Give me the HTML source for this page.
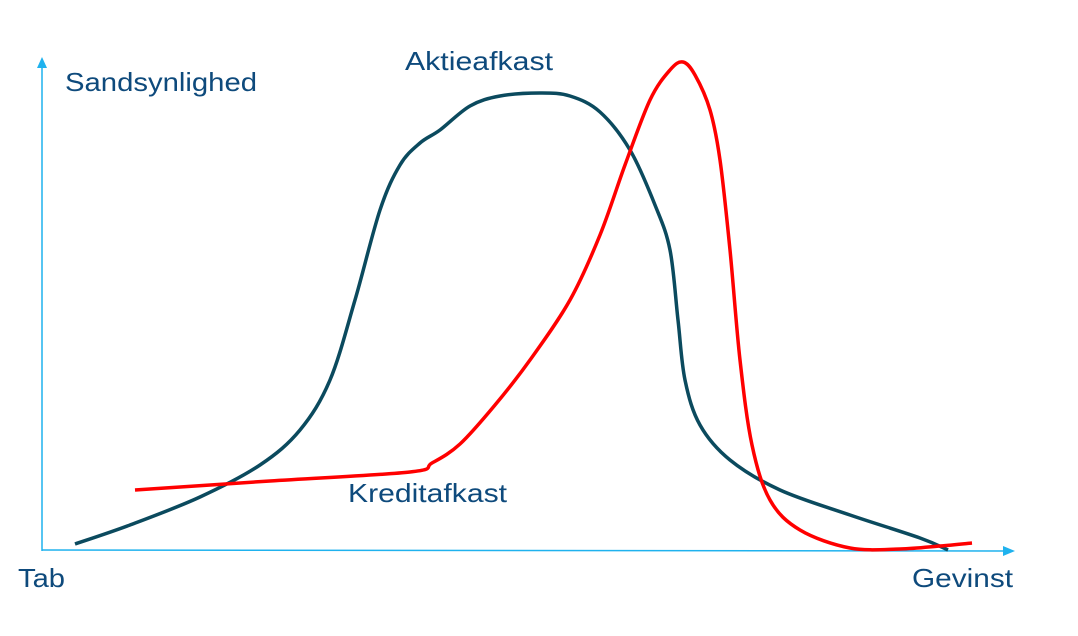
<!DOCTYPE html>
<html><head><meta charset="utf-8">
<style>
html,body{margin:0;padding:0;background:#fff;}
svg{display:block;}
text{font-family:"Liberation Sans",sans-serif;fill:#0e4a7c;font-size:26px;}
</style></head>
<body>
<svg id="chart" width="1078" height="636" viewBox="0 0 1078 636">
  <g>
    <line x1="42" y1="551" x2="42" y2="66" stroke="#1fb2ee" stroke-width="1.5"/>
    <polygon points="37,68 47,68 42,57" fill="#1fb2ee"/>
  </g>
  <g>
    <line x1="42" y1="550" x2="1004" y2="551" stroke="#1fb2ee" stroke-width="1.5"/>
    <polygon points="1003,546 1003,556 1015,551" fill="#1fb2ee"/>
  </g>
  <text x="65" y="91" textLength="192" lengthAdjust="spacingAndGlyphs">Sandsynlighed</text>
  <text x="18" y="587" textLength="47" lengthAdjust="spacingAndGlyphs">Tab</text>
  <text x="912" y="587" textLength="101" lengthAdjust="spacingAndGlyphs">Gevinst</text>
  <text x="405" y="70" textLength="148" lengthAdjust="spacingAndGlyphs">Aktieafkast</text>
  <text x="348" y="502" textLength="159" lengthAdjust="spacingAndGlyphs">Kreditafkast</text>
  <g id="series"></g>
</svg>
<script>
// x positions (return axis, px-units) and density heights above the axis
const aktieX = [75,130,200,260,300,330,355,380,400,420,440,470,500,540,570,600,630,655,670,678,685,700,730,780,850,920,948];
const aktieY = [6,25,53,85,120,170,250,340,385,407,420,444,454,457,454,438,400,345,300,230,170,125,90,60,35,12,0];
const kreditX = [135,270,410,432,460,495,530,570,600,625,650,670,683,695,710,720,730,740,752,770,800,850,900,940,972];
const kreditY = [60,69,78,87,106,145,190,250,315,385,450,480,488,475,440,390,300,190,105,50,20,2,1,4,7];

const x0 = 0, axisY = 550;
function sx(v){ return x0 + v; }
function sy(v){ return axisY - v; }

function pathFor(xs, ys){
  const p = xs.map((x,i)=>[sx(x), sy(ys[i])]);
  let d = `M${p[0][0]},${p[0][1]}`;
  for(let i=0;i<p.length-1;i++){
    const a=p[i-1]||p[i], b=p[i], c=p[i+1], e=p[i+2]||c;
    const c1=[b[0]+(c[0]-a[0])/6, b[1]+(c[1]-a[1])/6];
    const c2=[c[0]-(e[0]-b[0])/6, c[1]-(e[1]-b[1])/6];
    d += ` C${c1[0]},${c1[1]} ${c2[0]},${c2[1]} ${c[0]},${c[1]}`;
  }
  return d;
}
const g = document.getElementById('series');
const ns = 'http://www.w3.org/2000/svg';
const a = document.createElementNS(ns,'path');
a.setAttribute('d', pathFor(aktieX, aktieY));
a.setAttribute('fill','none'); a.setAttribute('stroke','#0b4a5e'); a.setAttribute('stroke-width','3.5');


g.appendChild(a);
const k = document.createElementNS(ns,'path');
k.setAttribute('d', pathFor(kreditX, kreditY));
k.setAttribute('fill','none'); k.setAttribute('stroke','#ff0000'); k.setAttribute('stroke-width','3.5');


g.appendChild(k);
</script>
</body></html>
